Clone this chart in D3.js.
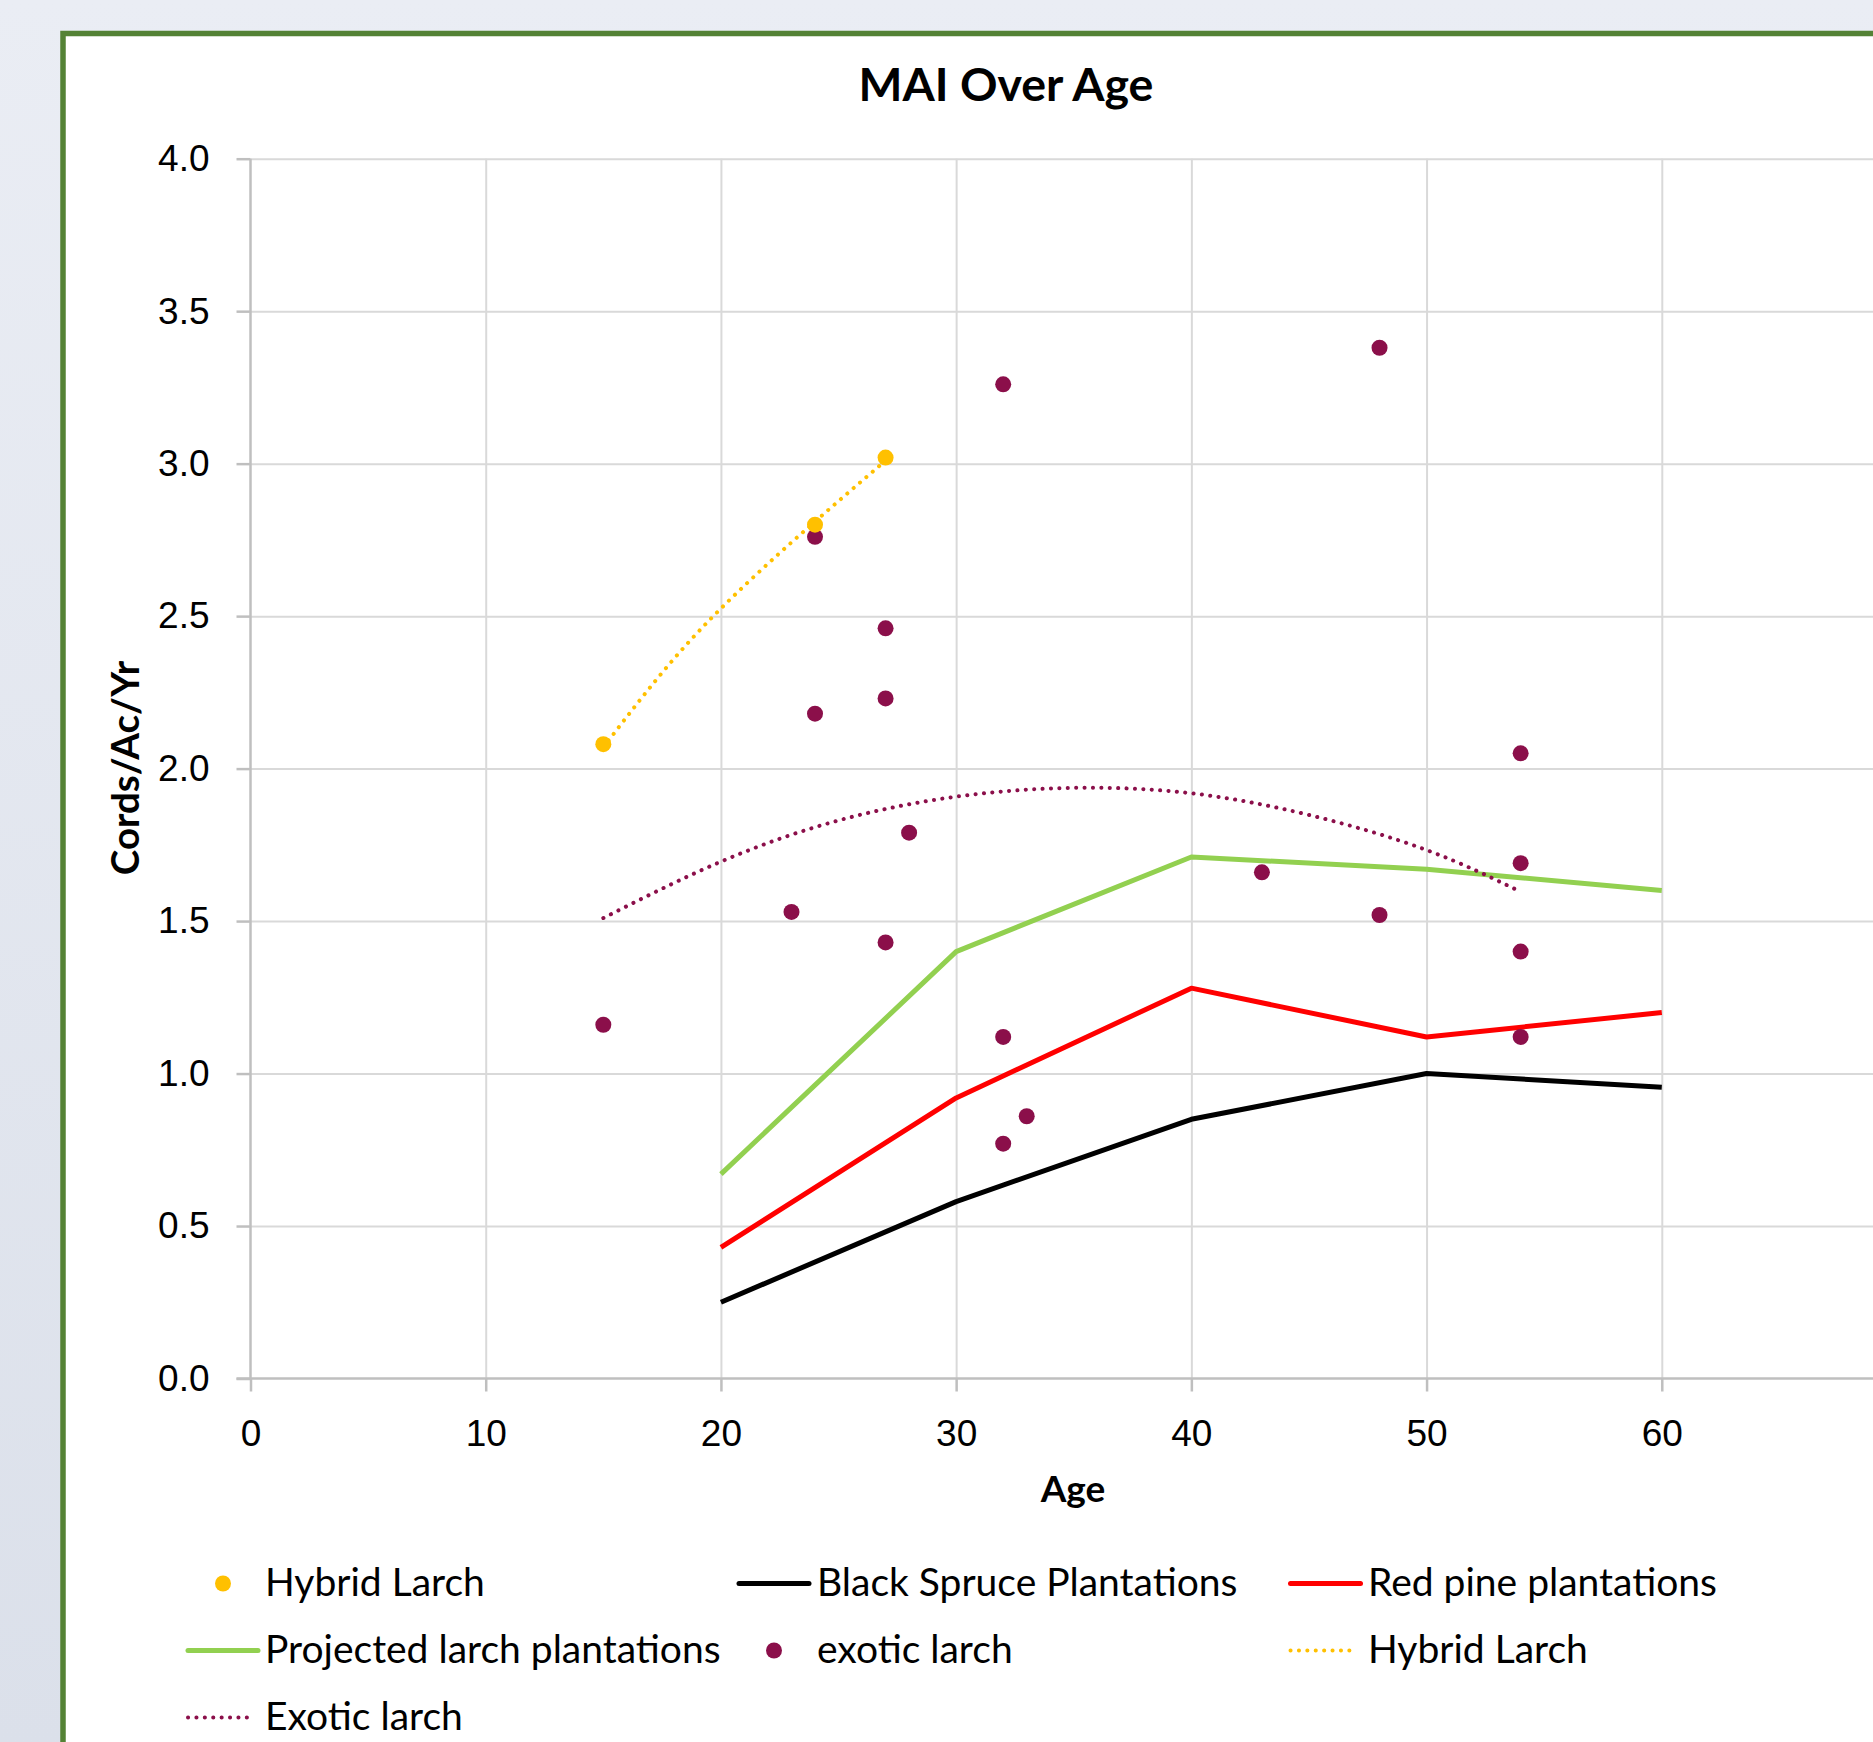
<!DOCTYPE html>
<html>
<head>
<meta charset="utf-8">
<script src="https://cdn.jsdelivr.net/npm/d3@7"></script>
<style>
  html, body { margin: 0; padding: 0; overflow: hidden; }
  body { width: 1873px; height: 1742px; background: linear-gradient(#eaedf4, #dbe0ea); }
  svg { display: block; font-family: Lato, "Open Sans", sans-serif; }
</style>
</head>
<body>
<div id="viz"></div>
<script>
// ages for the plantation yield curves
const plantationAges = [20, 30, 40, 50, 60];
const blackSpruce = [0.25, 0.58, 0.85, 1.00, 0.955];
const redPine = [0.43, 0.92, 1.28, 1.12, 1.20];
const projectedLarch = [0.67, 1.40, 1.71, 1.67, 1.60];

// measured stands
const hybridAges = [15, 24, 27];
const hybridMai = [2.08, 2.80, 3.02];
const exoticAges = [15, 23, 24, 24, 27, 27, 27, 28, 32, 32, 32, 33, 43, 48, 48, 54, 54, 54, 54];
const exoticMai = [1.16, 1.53, 2.76, 2.18, 2.46, 2.23, 1.43, 1.79, 3.26, 1.12, 0.77, 0.86, 1.66, 3.38, 1.52, 2.05, 1.69, 1.40, 1.12];

// trend lines
const hybridTrendAges = [15, 18, 21, 24, 27];
const hybridTrend = [2.07, 2.36, 2.60, 2.81, 3.01];
const exoticTrendAges = [15, 20, 25, 30, 35, 40, 45, 50, 54];
const exoticTrend = [1.51, 1.695, 1.83, 1.908, 1.937, 1.919, 1.848, 1.733, 1.596];

// 70 sits just past the right edge, only its gridline is kept
const xTicks = [0, 10, 20, 30, 40, 50, 60];
const xGrid = [10, 20, 30, 40, 50, 60, 70];
const yTicks = [0, 0.5, 1, 1.5, 2, 2.5, 3, 3.5, 4];

const legendItems = [
  { label: 'Hybrid Larch', kind: 'dot', color: '#ffc000' },
  { label: 'Black Spruce Plantations', kind: 'line', color: '#000000' },
  { label: 'Red pine plantations', kind: 'line', color: '#ff0000' },
  { label: 'Projected larch plantations', kind: 'line', color: '#92d050' },
  { label: 'exotic larch', kind: 'dot', color: '#8b0f4a' },
  { label: 'Hybrid Larch', kind: 'dotted', color: '#ffc000' },
  { label: 'Exotic larch', kind: 'dotted', color: '#8b0f4a' }
];

const LAYOUT = {
  width: 1873,
  height: 1742,
  plot: { left: 250.5, right: 1897, top: 158.7, bottom: 1378.5 },
  legend: { symbolX: [223, 774, 1325.5], textX: [265, 817, 1368], rowY: [1596, 1663, 1730] },
  tickFont: 37,
  legendFont: 39,
  dot: 8
}

const svg = d3.select('#viz').append('svg')
  .attr('width', LAYOUT.width)
  .attr('height', LAYOUT.height);

const x = d3.scaleLinear().domain([0, 70]).range([LAYOUT.plot.left, LAYOUT.plot.right]);
const y = d3.scaleLinear().domain([0, 4]).range([LAYOUT.plot.bottom, LAYOUT.plot.top]);

// chart box with green frame
svg.append('rect')
  .attr('x', 63).attr('y', 33.5)
  .attr('width', 1960).attr('height', 1800)
  .attr('fill', '#ffffff')
  .attr('stroke', '#548235')
  .attr('stroke-width', 5.5);

svg.append('text')
  .attr('x', 1006).attr('y', 101)
  .attr('text-anchor', 'middle')
  .attr('font-size', 46.5).attr('font-weight', 'bold')
  .text('MAI Over Age');

// gridlines
const gridX = svg.append('g')
  .attr('transform', `translate(0,${LAYOUT.plot.bottom})`)
  .call(d3.axisBottom(x).tickValues(xGrid).tickSize(-(LAYOUT.plot.bottom - LAYOUT.plot.top)).tickFormat(''));
const gridY = svg.append('g')
  .attr('transform', `translate(${LAYOUT.plot.left},0)`)
  .call(d3.axisLeft(y).tickValues(yTicks.slice(1)).tickSize(-(LAYOUT.plot.right - LAYOUT.plot.left)).tickFormat(''));
[gridX, gridY].forEach(g => {
  g.select('.domain').remove();
  g.selectAll('line').attr('stroke', '#d9d9d9').attr('stroke-width', 2);
});

// axes
const yAxis = svg.append('g')
  .attr('transform', `translate(${LAYOUT.plot.left},0)`)
  .call(d3.axisLeft(y).tickValues(yTicks).tickSize(14).tickPadding(27).tickFormat(d3.format('.1f')));
const xAxis = svg.append('g')
  .attr('transform', `translate(0,${LAYOUT.plot.bottom})`)
  .call(d3.axisBottom(x).tickValues(xTicks).tickSize(13).tickPadding(28).tickFormat(d3.format('d')));
[xAxis, yAxis].forEach(g => {
  g.select('.domain').attr('stroke', '#bfbfbf').attr('stroke-width', 2.5);
  g.selectAll('line').attr('stroke', '#bfbfbf').attr('stroke-width', 2.5);
  g.selectAll('text').attr('font-size', LAYOUT.tickFont).attr('fill', '#000').attr('font-family', null);
});
yAxis.select('.domain').attr('d', `M0,${LAYOUT.plot.top}V${LAYOUT.plot.bottom}`);
xAxis.select('.domain').attr('d', `M${LAYOUT.plot.left - 14},0H${LAYOUT.plot.right}`);

svg.append('text')
  .attr('x', 1073).attr('y', 1502)
  .attr('text-anchor', 'middle')
  .attr('font-size', 37).attr('font-weight', 'bold')
  .text('Age');
svg.append('text')
  .attr('transform', 'translate(139,768) rotate(-90)')
  .attr('text-anchor', 'middle')
  .attr('font-size', 38.5).attr('font-weight', 'bold')
  .text('Cords/Ac/Yr');

// series
const line = d3.line().x(d => x(d[0])).y(d => y(d[1]));
const smooth = d3.line().x(d => x(d[0])).y(d => y(d[1])).curve(d3.curveNatural);

function draw_line(ages, values, color) {
  svg.append('path')
    .datum(d3.zip(ages, values))
    .attr('d', line)
    .attr('fill', 'none')
    .attr('stroke', color)
    .attr('stroke-width', 5)
    .attr('stroke-linejoin', 'round');
}

function draw_trend(ages, values, color) {
  svg.append('path')
    .datum(d3.zip(ages, values))
    .attr('d', smooth)
    .attr('fill', 'none')
    .attr('stroke', color)
    .attr('stroke-width', 4)
    .attr('stroke-linecap', 'round')
    .attr('stroke-dasharray', '0.1 8.3');
}

function draw_dots(ages, values, color) {
  svg.append('g').selectAll('circle')
    .data(d3.zip(ages, values))
    .join('circle')
    .attr('cx', d => x(d[0]))
    .attr('cy', d => y(d[1]))
    .attr('r', LAYOUT.dot)
    .attr('fill', color);
}

draw_line(plantationAges, blackSpruce, '#000000');
draw_line(plantationAges, redPine, '#ff0000');
draw_line(plantationAges, projectedLarch, '#92d050');
draw_dots(exoticAges, exoticMai, '#8b0f4a');
draw_dots(hybridAges, hybridMai, '#ffc000');
draw_trend(hybridTrendAges, hybridTrend, '#ffc000');
draw_trend(exoticTrendAges, exoticTrend, '#8b0f4a');

// legend
const legend = svg.append('g').selectAll('g')
  .data(legendItems)
  .join('g')
  .attr('transform', (d, i) => `translate(0,${LAYOUT.legend.rowY[Math.floor(i / 3)]})`);

legend.each(function (d, i) {
  const g = d3.select(this);
  const cx = LAYOUT.legend.symbolX[i % 3];
  if (d.kind == 'dot') {
    g.append('circle').attr('cx', cx).attr('cy', -12.5).attr('r', LAYOUT.dot).attr('fill', d.color);
  } else {
    const l = g.append('line')
      .attr('x1', cx - 35).attr('x2', d.kind == 'dotted' ? cx + 28 : cx + 35)
      .attr('y1', -12.5).attr('y2', -12.5)
      .attr('stroke', d.color);
    if (d.kind == 'dotted') {
      l.attr('stroke-width', 4).attr('stroke-linecap', 'round').attr('stroke-dasharray', '0.1 8.3');
    } else {
      l.attr('stroke-width', 5).attr('stroke-linecap', 'round');
    }
  }
  g.append('text')
    .attr('x', LAYOUT.legend.textX[i % 3])
    .attr('font-size', LAYOUT.legendFont)
    .text(d.label);
});
</script>
</body>
</html>
